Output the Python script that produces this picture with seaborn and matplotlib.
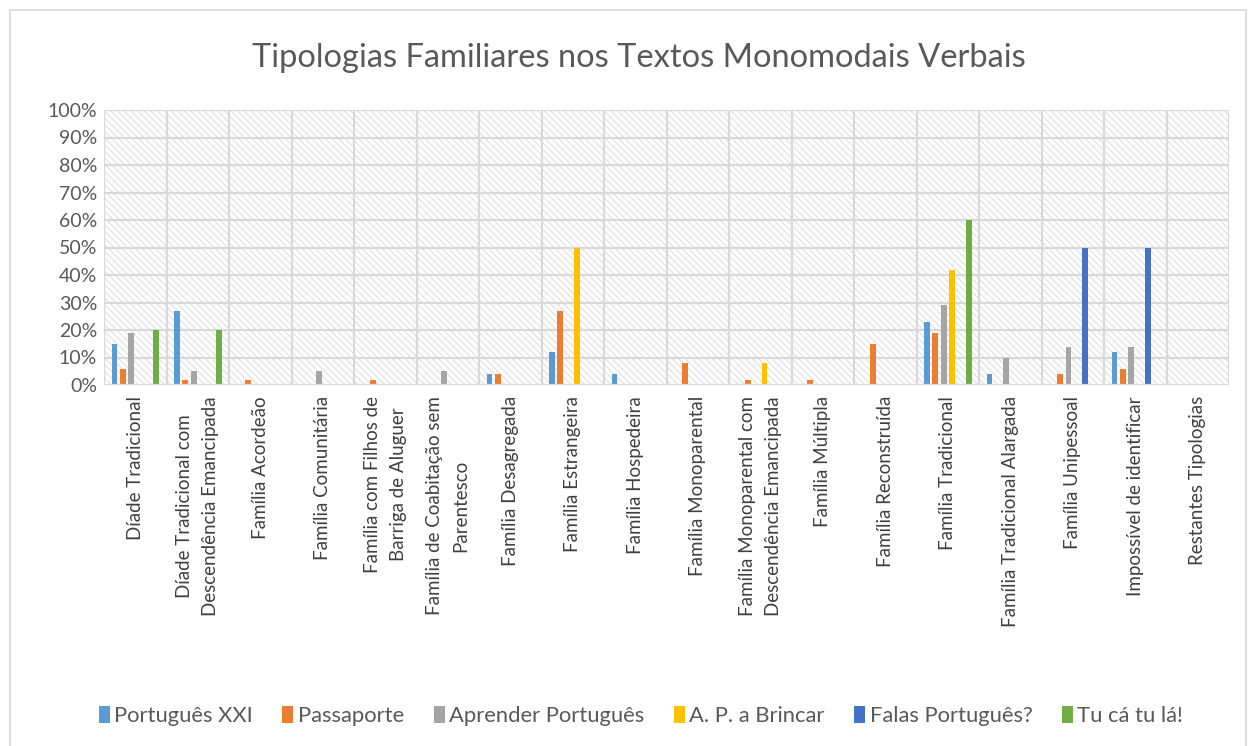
import pandas as pd
import matplotlib.pyplot as plt
import seaborn as sns
from matplotlib.patches import Rectangle
from matplotlib.ticker import PercentFormatter

# categories (x axis)
categories = [
    "Díade Tradicional",
    "Díade Tradicional com\nDescendência Emancipada",
    "Família Acordeão",
    "Família Comunitária",
    "Família com Filhos de\nBarriga de Aluguer",
    "Família de Coabitação sem\nParentesco",
    "Família Desagregada",
    "Família Estrangeira",
    "Família Hospedeira",
    "Família Monoparental",
    "Família Monoparental com\nDescendência Emancipada",
    "Família Múltipla",
    "Família Reconstruída",
    "Família Tradicional",
    "Família Tradicional Alargada",
    "Família Unipessoal",
    "Impossível de identificar",
    "Restantes Tipologias",
]

# values in %, one list per manual
portugues_xxi = [15, 27, 0, 0, 0, 0, 4, 12, 4, 0, 0, 0, 0, 23, 4, 0, 12, 0]
passaporte = [6, 2, 2, 0, 2, 0, 4, 27, 0, 8, 2, 2, 15, 19, 0, 4, 6, 0]
aprender_portugues = [19, 5, 0, 5, 0, 5, 0, 0, 0, 0, 0, 0, 0, 29, 10, 14, 14, 0]
ap_brincar = [0, 0, 0, 0, 0, 0, 0, 50, 0, 0, 8, 0, 0, 42, 0, 0, 0, 0]
falas_portugues = [0, 0, 0, 0, 0, 0, 0, 0, 0, 0, 0, 0, 0, 0, 0, 50, 50, 0]
tu_ca_tu_la = [20, 20, 0, 0, 0, 0, 0, 0, 0, 0, 0, 0, 0, 60, 0, 0, 0, 0]

series_names = ["Português XXI", "Passaporte", "Aprender Português",
                "A. P. a Brincar", "Falas Português?", "Tu cá tu lá!"]
series_values = [portugues_xxi, passaporte, aprender_portugues,
                 ap_brincar, falas_portugues, tu_ca_tu_la]
colors = ["#5B9BD5", "#ED7D31", "#A5A5A5", "#FFC000", "#4472C4", "#70AD47"]

rows = []
for name, vals in zip(series_names, series_values):
    for cat, v in zip(categories, vals):
        rows.append({"categoria": cat, "manual": name, "valor": v})
df = pd.DataFrame(rows)

sns.set_theme(style="white")
plt.rcParams['font.family'] = ['Lato', 'DejaVu Sans']
plt.rcParams['hatch.linewidth'] = 0.6

fig = plt.figure(figsize=(12.48, 7.46), dpi=100)
ax = fig.add_axes([104 / 1248, 1 - 385 / 746, 1125 / 1248, 275 / 746])

# hatched plot background
ax.add_patch(Rectangle((0, 0), 1, 1, transform=ax.transAxes, facecolor="white",
                       edgecolor="#d6d6d6", hatch="\\\\\\\\\\", linewidth=0, zorder=0))

sns.barplot(data=df, x="categoria", y="valor", hue="manual", order=categories,
            hue_order=series_names, palette=colors, saturation=1, width=0.8, gap=0.3,
            linewidth=0, errorbar=None, ax=ax, zorder=3)

ax.set_ylim(0, 100)
ax.set_xlim(-0.5, len(categories) - 0.5)
ax.set_yticks(range(0, 101, 10))
ax.yaxis.set_major_formatter(PercentFormatter(decimals=0))
ax.set_xlabel("")
ax.set_ylabel("")

# grid lines: horizontal at ticks, vertical at category boundaries
for y in range(10, 101, 10):
    ax.axhline(y, color="#d9d9d9", linewidth=1.6, zorder=1)
for i in range(len(categories) + 1):
    ax.axvline(i - 0.5, color="#d9d9d9", linewidth=1.6, zorder=1)
ax.axhline(0, color="#d9d9d9", linewidth=1.6, zorder=4)

for s in ax.spines.values():
    s.set_visible(False)

ax.tick_params(axis="y", labelsize=14, colors="#595959", length=0, pad=5)
ax.tick_params(axis="x", labelsize=13.5, colors="#404040", length=0, pad=8)
plt.setp(ax.get_xticklabels(), rotation=90, ha="center", va="top",
         multialignment="center", linespacing=1.65)

fig.text(0.512, 0.922, "Tipologias Familiares nos Textos Monomodais Verbais",
         ha="center", va="center", fontsize=23.5, color="#595959")

leg = ax.legend(loc="center", bbox_to_anchor=(641 / 1248, 1 - 716 / 746),
                bbox_transform=fig.transFigure, ncol=6, frameon=False,
                fontsize=15.8, handlelength=0.5, handleheight=0.85,
                handletextpad=0.2, columnspacing=1.35)
for t in leg.get_texts():
    t.set_color("#595959")

# chart area border
fig.patches.append(Rectangle((10 / 1248, -0.01), 1236 / 1248, 1 - 10 / 746 + 0.01,
                             transform=fig.transFigure, fill=False,
                             edgecolor="#d9d9d9", linewidth=1.2))

fig.savefig("out.png", dpi=100)
